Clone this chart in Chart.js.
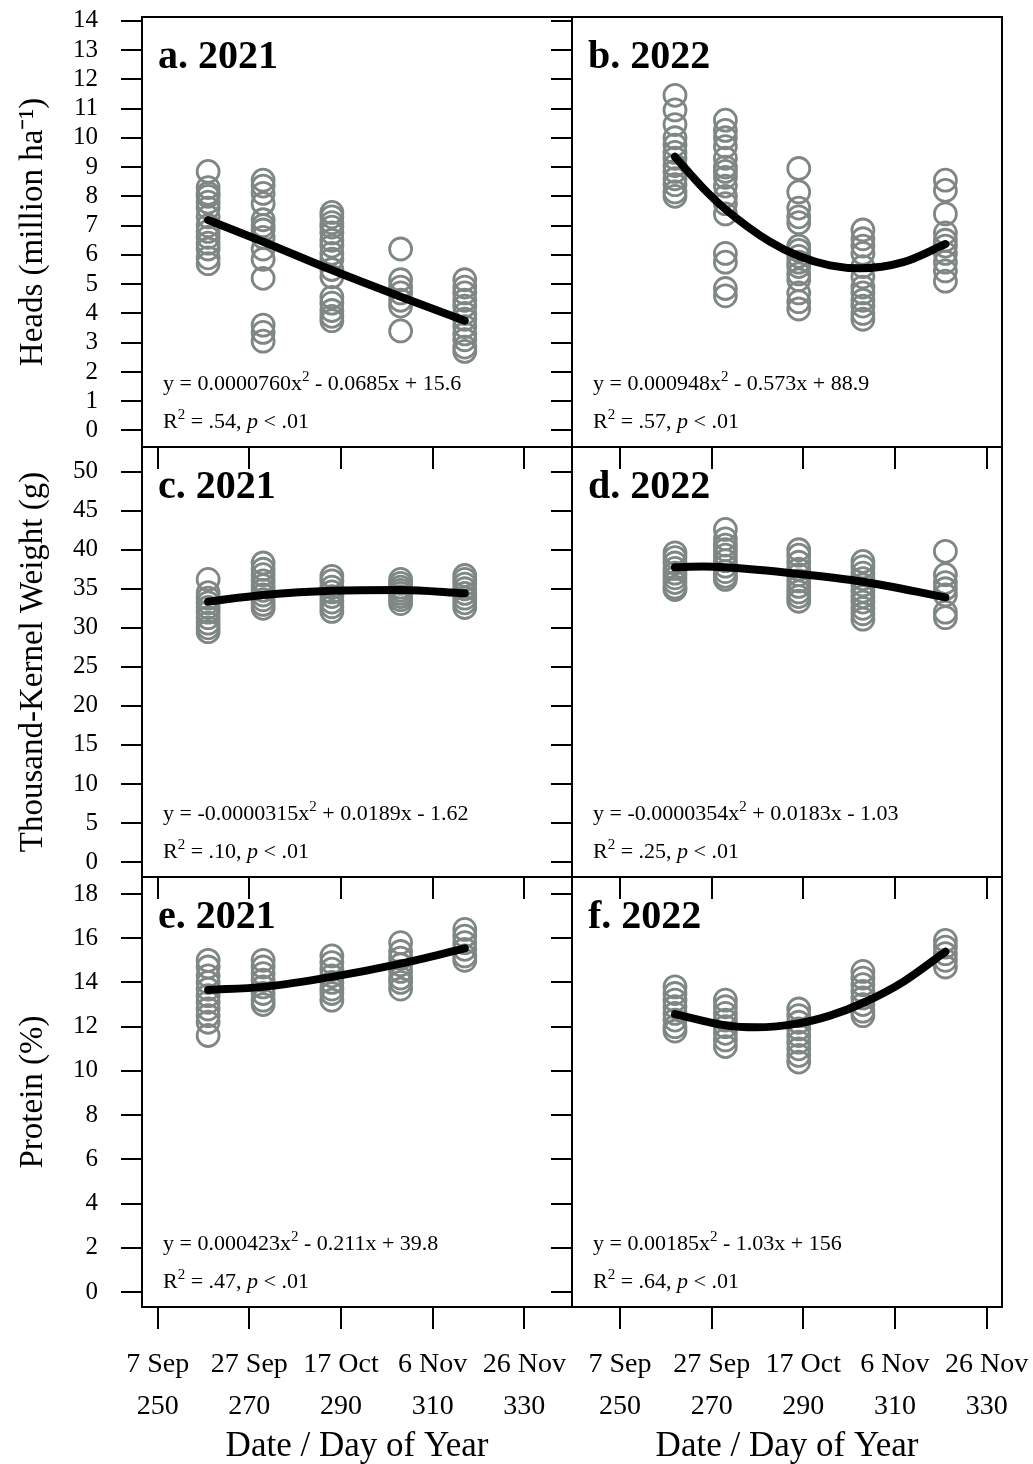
<!DOCTYPE html>
<html>
<head>
<meta charset="utf-8">
<script src="https://cdn.jsdelivr.net/npm/chart.js@4.4.1/dist/chart.umd.min.js"></script>
<style>
  body { margin: 0; background: #fff; }
  #wrap { position: relative; width: 1033px; height: 1464px; }
  #wrap canvas { position: absolute; left: 0; top: 0; }
</style>
</head>
<body>
<div id="wrap">
  <canvas id="pa" width="1033" height="1464"></canvas>
  <canvas id="pb" width="1033" height="1464"></canvas>
  <canvas id="pc" width="1033" height="1464"></canvas>
  <canvas id="pd" width="1033" height="1464"></canvas>
  <canvas id="pe" width="1033" height="1464"></canvas>
  <canvas id="pf" width="1033" height="1464"></canvas>
</div>
<script>
const serif = '"Liberation Serif", "Times New Roman", serif';
const grey = '#7f8785';

// sampling dates (day of year)
const days2021 = [261, 273, 288, 303, 317];
const days2022 = [262, 273, 289, 303, 321];

// axis ticks
const doyTicks = [250, 270, 290, 310, 330];
const dateLabels = ['7 Sep', '27 Sep', '17 Oct', '6 Nov', '26 Nov'];
const headsTicks = [0, 1, 2, 3, 4, 5, 6, 7, 8, 9, 10, 11, 12, 13, 14];
const tkwTicks = [0, 5, 10, 15, 20, 25, 30, 35, 40, 45, 50];
const proteinTicks = [0, 2, 4, 6, 8, 10, 12, 14, 16, 18];

// heads (million/ha), one list per sampling date
const heads2021 = [
  [8.85, 8.3, 8.1, 8.0, 7.8, 7.6, 7.3, 7.0, 6.8, 6.6, 6.4, 6.2, 5.9, 5.7],
  [8.55, 8.35, 8.1, 7.75, 7.2, 7.0, 6.85, 6.6, 6.2, 5.85, 5.2, 3.6, 3.35, 3.05],
  [7.45, 7.3, 7.1, 6.95, 6.75, 6.5, 6.3, 6.05, 5.85, 5.5, 5.25, 4.55, 4.35, 4.1, 3.9, 3.75],
  [6.2, 5.15, 4.9, 4.7, 4.45, 4.25, 3.4],
  [5.15, 4.9, 4.7, 4.45, 4.25, 4.0, 3.8, 3.55, 3.3, 3.1, 2.85, 2.7]
];
const heads2022 = [
  [11.45, 10.95, 10.45, 10.0, 9.75, 9.5, 9.3, 9.05, 8.85, 8.6, 8.4, 8.15, 8.0],
  [10.6, 10.25, 10.0, 9.7, 9.3, 9.0, 8.85, 8.65, 8.35, 8.0, 7.75, 7.4, 6.05, 5.75, 4.85, 4.6],
  [8.95, 8.15, 7.6, 7.3, 7.1, 6.3, 6.15, 5.95, 5.75, 5.6, 5.35, 5.15, 4.7, 4.4, 4.15],
  [6.85, 6.55, 6.3, 6.05, 5.6, 5.25, 4.9, 4.7, 4.45, 4.25, 4.0, 3.8],
  [8.55, 8.2, 7.4, 6.75, 6.5, 6.3, 6.05, 5.75, 5.45, 5.1]
];

// thousand-kernel weight (g)
const tkw2021 = [
  [36.2, 34.5, 33.8, 33.2, 32.6, 32.0, 31.3, 30.6, 30.0, 29.5],
  [38.3, 37.5, 36.8, 36.0, 35.4, 34.8, 34.2, 33.6, 33.0, 32.5],
  [36.6, 36.0, 35.2, 34.6, 34.0, 33.3, 32.7, 32.1],
  [36.2, 35.7, 35.2, 34.8, 34.4, 34.0, 33.6, 33.1],
  [36.7, 36.2, 35.6, 35.0, 34.4, 33.8, 33.2, 32.6]
];
const tkw2022 = [
  [39.6, 39.0, 38.3, 37.6, 37.0, 36.4, 35.8, 35.2, 34.9],
  [42.6, 41.4, 40.6, 40.0, 39.3, 38.6, 37.9, 37.2, 36.6, 36.2],
  [40.0, 39.3, 38.4, 37.5, 36.8, 36.0, 35.3, 34.6, 34.0, 33.4],
  [38.5, 37.8, 37.0, 36.3, 35.5, 34.7, 34.0, 33.3, 32.5, 31.8, 31.1],
  [39.8, 36.8, 35.8, 35.0, 34.2, 32.0, 31.3]
];

// grain protein (%)
const protein2021 = [
  [15.0, 14.7, 14.3, 14.0, 13.7, 13.4, 13.1, 12.8, 12.5, 12.2, 11.6],
  [15.0, 14.7, 14.4, 14.1, 13.8, 13.5, 13.2, 13.0],
  [15.2, 14.9, 14.6, 14.3, 14.0, 13.7, 13.5, 13.2],
  [15.8, 15.4, 15.1, 14.8, 14.5, 14.2, 14.0, 13.7],
  [16.4, 16.1, 15.8, 15.5, 15.2, 15.0]
];
const protein2022 = [
  [13.8, 13.5, 13.2, 12.9, 12.6, 12.3, 12.0, 11.8],
  [13.2, 12.9, 12.6, 12.3, 12.0, 11.7, 11.4, 11.1],
  [12.8, 12.5, 12.2, 11.9, 11.6, 11.3, 11.0, 10.7, 10.4],
  [14.5, 14.2, 13.9, 13.6, 13.3, 13.0, 12.7, 12.5],
  [15.9, 15.6, 15.3, 15.0, 14.7]
];

const headsFitDays2021 = [261, 273, 288, 303, 317];
const headsFit2021 = [7.19, 6.45, 5.48, 4.57, 3.75];
const headsFitDays2022 = [262, 268, 273, 282.7, 289, 295.8, 302.4, 311.8, 321];
const headsFit2022 = [9.35, 8.30, 7.56, 6.45, 5.96, 5.64, 5.54, 5.75, 6.37];
const tkwFitDays2021 = [261, 273, 288, 303, 317];
const tkwFit2021 = [33.35, 34.2, 34.76, 34.85, 34.42];
const tkwFitDays2022 = [262, 268, 273, 289, 303, 321];
const tkwFit2022 = [37.75, 37.85, 37.75, 36.9, 35.9, 33.9];
const proteinFitDays2021 = [261, 273, 288, 303, 317];
const proteinFit2021 = [13.66, 13.8, 14.25, 14.85, 15.54];
const proteinFitDays2022 = [262, 273, 279.6, 289, 295.8, 303, 311.8, 321];
const proteinFit2022 = [12.57, 12.06, 11.97, 12.15, 12.5, 13.07, 14.03, 15.39];

function toPoints(days, groups) {
  return groups.flatMap((vals, i) => vals.map(v => ({ x: days[i], y: v })));
}
function toLine(days, vals) {
  return days.map((d, i) => ({ x: d, y: vals[i] }));
}

// text with ^2 superscripts and *italic* runs
function richText(ctx, text, x, y, size) {
  const parts = text.split(/(\^\d|\*[^*]+\*)/).filter(Boolean);
  for (const p of parts) {
    let s = p, dy = 0, font = `${size}px ${serif}`;
    if (p[0] === '^') { s = p.slice(1); dy = -size * 0.42; font = `${Math.round(size * 0.68)}px ${serif}`; }
    else if (p[0] === '*') { s = p.slice(1, -1); font = `italic ${size}px ${serif}`; }
    ctx.font = font;
    ctx.fillText(s, x, y + dy);
    x += ctx.measureText(s).width;
  }
}

// keep label overhang from moving the plot box
function noPadding(s) {
  s.paddingTop = 0;
  s.paddingBottom = 0;
  s.paddingLeft = 0;
  s.paddingRight = 0;
}

const frame = {
  id: 'frame',
  afterDraw(chart) {
    const { ctx, chartArea: a } = chart;
    ctx.save();
    ctx.strokeStyle = '#000';
    ctx.lineWidth = 2;
    ctx.strokeRect(a.left, a.top, a.right - a.left, a.bottom - a.top);
    ctx.restore();
  }
};

const panelText = {
  id: 'panelText',
  afterDraw(chart, args, o) {
    const { ctx, chartArea: a } = chart;
    ctx.save();
    ctx.fillStyle = '#000';
    ctx.textBaseline = 'alphabetic';
    ctx.font = `bold 40px ${serif}`;
    ctx.fillText(o.label, a.left + 16, a.top + 51);
    richText(ctx, o.equation, a.left + 21, a.top + 373, 22);
    richText(ctx, o.stats, a.left + 21, a.top + 411, 22);
    ctx.restore();
  }
};

const cols = [[142, 572], [572, 1002]];
const rows = [[17, 447], [447, 877], [877, 1307]];

function makePanel(id, o) {
  const left = o.col === 0;
  const bottom = o.row === 2;
  const xH = bottom ? 157 : 22;
  const axisGrid = (len) => ({ drawOnChartArea: false, drawTicks: true, tickLength: len, color: '#000', lineWidth: 2 });

  return new Chart(document.getElementById(id), {
    type: 'scatter',
    data: {
      datasets: [
        {
          data: toLine(o.fitDays, o.fit),
          showLine: true,
          borderColor: '#000',
          borderWidth: 8,
          borderCapStyle: 'round',
          cubicInterpolationMode: 'monotone',
          pointRadius: 0,
          pointHoverRadius: 0,
          order: 0
        },
        {
          data: toPoints(o.days, o.values),
          pointStyle: 'circle',
          pointRadius: 11,
          borderWidth: 2.8,
          borderColor: grey,
          backgroundColor: 'rgba(0,0,0,0)',
          order: 1
        }
      ]
    },
    options: {
      responsive: false,
      animation: false,
      devicePixelRatio: 1,
      events: [],
      layout: {
        padding: {
          left: left ? 0 : 540,
          right: 1033 - cols[o.col][1],
          top: rows[o.row][0],
          bottom: 1464 - rows[o.row][1] - xH
        }
      },
      plugins: {
        legend: { display: false },
        tooltip: { enabled: false },
        panelText: { label: o.label, equation: o.equation, stats: o.stats }
      },
      scales: {
        x: {
          type: 'linear',
          min: o.xRange[0],
          max: o.xRange[1],
          afterBuildTicks: s => { s.ticks = doyTicks.map(v => ({ value: v })); },
          afterFit: s => { s.height = xH; noPadding(s); },
          grid: axisGrid(22),
          border: { display: true, color: '#000', width: 2 },
          ticks: {
            display: bottom,
            autoSkip: false,
            maxRotation: 0,
            padding: 15,
            color: '#000',
            font: { family: serif, size: 28, lineHeight: '42px' },
            callback: (v, i) => [dateLabels[i], String(doyTicks[i])]
          },
          title: {
            display: bottom,
            text: 'Date / Day of Year',
            color: '#000',
            font: { family: serif, size: 35, lineHeight: 1 },
            padding: 0
          }
        },
        y: {
          type: 'linear',
          min: o.yRange[0],
          max: o.yRange[1],
          afterBuildTicks: s => { s.ticks = o.yTicks.map(v => ({ value: v })); },
          afterFit: s => { s.width = left ? 142 : 32; noPadding(s); },
          grid: axisGrid(21),
          border: { display: true, color: '#000', width: 2 },
          ticks: {
            display: left,
            autoSkip: false,
            padding: 23,
            color: '#000',
            font: { family: serif, size: 25 }
          },
          title: {
            display: left,
            text: o.yTitle,
            color: '#000',
            font: { family: serif, size: 33, lineHeight: 1 },
            padding: { top: 17, bottom: 0 }
          }
        }
      }
    },
    plugins: [frame, panelText]
  });
}

const range2021 = [246.57, 340.4];
const range2022 = [239.53, 333.35];

makePanel('pa', {
  col: 0, row: 0, xRange: range2021, yRange: [-0.564, 14.126], yTicks: headsTicks,
  yTitle: 'Heads (million ha\u207B\u00B9)', days: days2021, values: heads2021,
  fitDays: headsFitDays2021, fit: headsFit2021, label: 'a. 2021',
  equation: 'y = 0.0000760x^2 - 0.0685x + 15.6', stats: 'R^2 = .54, *p* < .01'
});
makePanel('pb', {
  col: 1, row: 0, xRange: range2022, yRange: [-0.564, 14.126], yTicks: headsTicks,
  days: days2022, values: heads2022,
  fitDays: headsFitDays2022, fit: headsFit2022, label: 'b. 2022',
  equation: 'y = 0.000948x^2 - 0.573x + 88.9', stats: 'R^2 = .57, *p* < .01'
});
makePanel('pc', {
  col: 0, row: 1, xRange: range2021, yRange: [-1.92, 53.16], yTicks: tkwTicks,
  yTitle: 'Thousand-Kernel Weight (g)', days: days2021, values: tkw2021,
  fitDays: tkwFitDays2021, fit: tkwFit2021, label: 'c. 2021',
  equation: 'y = -0.0000315x^2 + 0.0189x - 1.62', stats: 'R^2 = .10, *p* < .01'
});
makePanel('pd', {
  col: 1, row: 1, xRange: range2022, yRange: [-1.92, 53.16], yTicks: tkwTicks,
  days: days2022, values: tkw2022,
  fitDays: tkwFitDays2022, fit: tkwFit2022, label: 'd. 2022',
  equation: 'y = -0.0000354x^2 + 0.0183x - 1.03', stats: 'R^2 = .25, *p* < .01'
});
makePanel('pe', {
  col: 0, row: 2, xRange: range2021, yRange: [-0.68, 18.77], yTicks: proteinTicks,
  yTitle: 'Protein (%)', days: days2021, values: protein2021,
  fitDays: proteinFitDays2021, fit: proteinFit2021, label: 'e. 2021',
  equation: 'y = 0.000423x^2 - 0.211x + 39.8', stats: 'R^2 = .47, *p* < .01'
});
makePanel('pf', {
  col: 1, row: 2, xRange: range2022, yRange: [-0.68, 18.77], yTicks: proteinTicks,
  days: days2022, values: protein2022,
  fitDays: proteinFitDays2022, fit: proteinFit2022, label: 'f. 2022',
  equation: 'y = 0.00185x^2 - 1.03x + 156', stats: 'R^2 = .64, *p* < .01'
});
</script>
</body>
</html>
